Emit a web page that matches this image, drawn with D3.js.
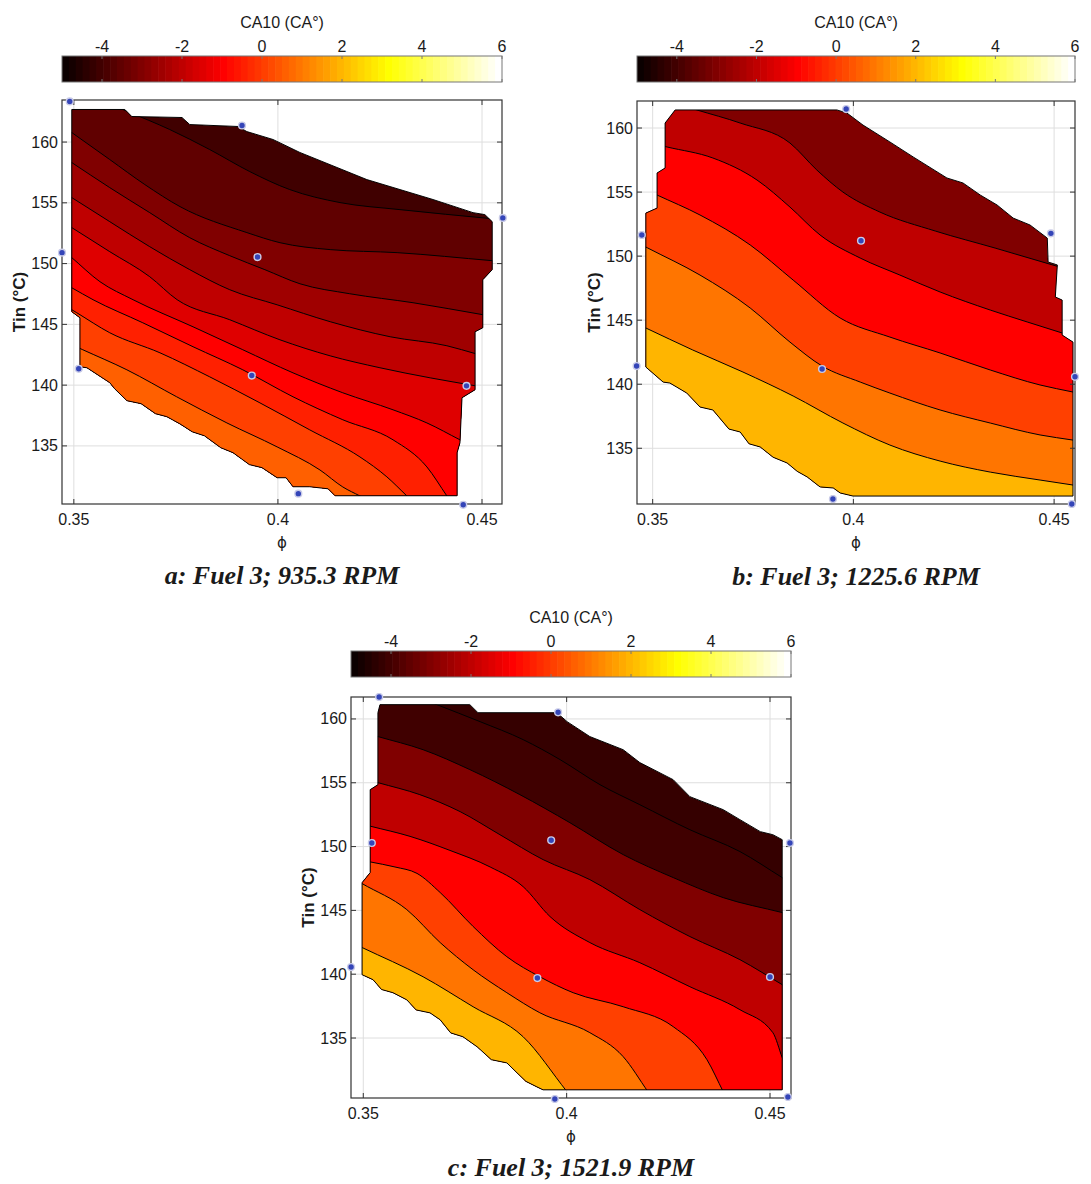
<!DOCTYPE html>
<html><head><meta charset="utf-8">
<script src="https://cdn.jsdelivr.net/npm/d3@7"></script>
<style>
body{margin:0;background:#fff;}
svg text{fill:#1a1a1a;}
</style></head>
<body><svg id="chart" width="1091" height="1184"></svg>
<script>
// ---------- shared data ----------
const colorbarTicks = [-4, -2, 0, 2, 4, 6];
const colorbarRange = [-5, 6];
const xTicks = [0.35, 0.4, 0.45];
const yTicks = [135, 140, 145, 150, 155, 160];
const colorbarTitle = "CA10 (CA°)";
const xTitle = "ϕ";
const yTitle = "Tin (°C)";

// ---------- panel a ----------
const captionA = "a: Fuel 3; 935.3 RPM";
const phiDomainA = [0.3471, 0.4549];
const tinDomainA = [130.22, 163.46];
const levelsA = [-3.5, -3, -2.5, -2, -1.5, -1, -0.5, 0, 0.5];
const floorA = -4;
const linesA = [
  [[0.3632,162.51],[0.3735,161.03],[0.3833,159.38],[0.3931,157.57],[0.4029,156.09],[0.4152,155.02],[0.4299,154.44],[0.4522,153.70]],
  [[0.3495,160.78],[0.3588,158.56],[0.3674,156.50],[0.3760,154.69],[0.3924,152.55],[0.4005,151.72],[0.4128,151.15],[0.4292,150.90],[0.4525,150.24]],
  [[0.3495,158.31],[0.3588,156.25],[0.3686,154.19],[0.3784,152.13],[0.3882,150.65],[0.3968,149.50],[0.4054,148.34],[0.4176,147.52],[0.4331,146.78],[0.4503,145.79]],
  [[0.3495,155.43],[0.3588,153.45],[0.3686,151.39],[0.3784,149.50],[0.3882,147.85],[0.3998,146.61],[0.4128,145.22],[0.4275,143.98],[0.4414,143.24],[0.4485,142.58]],
  [[0.3495,152.96],[0.3588,150.98],[0.3686,148.92],[0.3753,147.03],[0.3882,145.38],[0.4005,143.73],[0.4128,142.41],[0.4250,141.43],[0.4373,140.60],[0.4485,139.94]],
  [[0.3495,150.49],[0.3564,148.51],[0.3645,147.03],[0.3792,144.80],[0.3914,142.91],[0.4037,141.01],[0.4159,139.37],[0.4282,137.97],[0.4365,136.89],[0.4446,135.50]],
  [[0.3495,148.01],[0.3547,147.03],[0.3669,145.13],[0.3792,143.16],[0.3914,141.26],[0.4037,139.04],[0.4159,137.15],[0.4282,135.50],[0.4365,133.27],[0.4414,130.88]],
  [[0.3507,145.96],[0.3588,144.31],[0.3711,142.66],[0.3833,140.68],[0.3956,138.54],[0.4078,136.32],[0.4201,134.09],[0.4267,132.45],[0.4316,130.88]],
  [[0.3522,142.91],[0.3630,141.26],[0.3752,139.04],[0.3875,136.89],[0.3998,134.92],[0.4103,133.02],[0.4159,131.62],[0.4201,130.88]]
];
const hullA = [[0.3495,162.68],[0.3625,162.68],[0.3642,162.10],[0.3765,162.02],[0.3784,161.44],[0.3902,161.28],[0.3924,160.86],[0.3988,160.21],[0.4054,159.14],[0.4218,156.91],[0.4380,155.27],[0.4478,154.19],[0.4507,154.03],[0.4525,153.45],[0.4525,149.50],[0.4502,148.67],[0.4502,144.72],[0.4483,144.39],[0.4483,139.62],[0.4451,138.96],[0.4446,135.26],[0.4439,134.44],[0.4439,130.90],[0.4140,130.90],[0.4123,131.47],[0.4078,131.64],[0.4037,131.64],[0.4020,132.38],[0.3998,132.38],[0.3961,133.21],[0.3930,133.46],[0.3890,134.44],[0.3860,134.85],[0.3820,135.83],[0.3790,136.16],[0.3760,136.81],[0.3728,137.40],[0.3700,137.65],[0.3665,138.47],[0.3630,138.72],[0.3600,139.70],[0.3588,140.20],[0.3532,141.43],[0.3515,141.51],[0.3515,145.54],[0.3495,146.04]];
const pointsA = [[0.3490,163.34],[0.3912,161.36],[0.3950,150.54],[0.3471,150.90],[0.3512,141.35],[0.3936,140.79],[0.4462,139.94],[0.4050,131.07],[0.4454,130.16],[0.4551,153.76]];

// ---------- panel b ----------
const captionB = "b: Fuel 3; 1225.6 RPM";
const phiDomainB = [0.3461, 0.4552];
const tinDomainB = [130.65, 162.11];
const levelsB = [-2, -1, 0, 1, 2];
const floorB = -3;
const linesB = [
  [[0.3610,161.41],[0.3718,160.39],[0.3842,158.83],[0.3909,156.72],[0.3974,155.00],[0.4066,153.44],[0.4204,151.96],[0.4353,150.63],[0.4505,149.23]],
  [[0.3536,158.52],[0.3650,157.66],[0.3760,155.94],[0.3842,153.83],[0.3917,151.65],[0.4017,149.85],[0.4116,148.52],[0.4216,147.20],[0.4341,145.79],[0.4433,144.86],[0.4520,144.00]],
  [[0.3511,154.77],[0.3618,153.21],[0.3743,150.87],[0.3850,148.13],[0.3967,145.17],[0.4091,143.68],[0.4216,142.44],[0.4341,141.11],[0.4465,139.94],[0.4547,139.39]],
  [[0.3488,150.63],[0.3618,148.52],[0.3743,145.95],[0.3842,143.29],[0.3922,141.42],[0.4017,140.17],[0.4091,139.31],[0.4216,137.99],[0.4341,136.97],[0.4465,136.04],[0.4547,135.64]],
  [[0.3483,144.39],[0.3600,142.67],[0.3725,140.95],[0.3850,139.08],[0.3974,136.97],[0.4091,135.25],[0.4216,134.00],[0.4341,133.14],[0.4465,132.52],[0.4547,132.13]]
];
const hullB = [[0.3556,161.41],[0.3959,161.41],[0.3984,161.17],[0.4024,160.23],[0.4091,158.91],[0.4149,157.74],[0.4233,156.10],[0.4273,155.71],[0.4316,154.77],[0.4358,153.99],[0.4398,152.97],[0.4440,152.43],[0.4483,151.41],[0.4485,149.54],[0.4508,149.31],[0.4503,146.81],[0.4520,146.57],[0.4520,143.84],[0.4547,143.29],[0.4547,131.27],[0.3999,131.27],[0.3967,131.51],[0.3950,131.90],[0.3917,131.98],[0.3885,132.76],[0.3860,133.20],[0.3835,133.85],[0.3800,134.30],[0.3768,135.10],[0.3740,135.35],[0.3718,136.27],[0.3690,136.50],[0.3650,137.99],[0.3618,138.22],[0.3585,139.31],[0.3543,140.09],[0.3526,140.17],[0.3483,141.34],[0.3483,153.36],[0.3511,153.75],[0.3511,156.49],[0.3531,156.88],[0.3531,160.39]];
const pointsB = [[0.3982,161.48],[0.4492,151.78],[0.4019,151.20],[0.3473,151.65],[0.3922,141.19],[0.3460,141.42],[0.3949,131.04],[0.4544,130.65],[0.4552,140.58]];

// ---------- panel c ----------
const captionC = "c: Fuel 3; 1521.9 RPM";
const phiDomainC = [0.34698, 0.45516];
const tinDomainC = [130.30, 161.72];
const levelsC = [-4, -3, -2, -1, 0, 1, 2];
const floorC = -4.3;
const linesC = [
  [[0.3681,161.12],[0.3787,159.79],[0.3893,158.38],[0.3984,156.81],[0.4082,154.85],[0.4180,153.28],[0.4303,151.32],[0.4426,149.61],[0.4530,147.57]],
  [[0.3536,158.62],[0.3647,157.59],[0.3762,156.03],[0.3885,154.07],[0.4008,151.87],[0.4139,149.37],[0.4262,147.57],[0.4385,146.00],[0.4530,144.83]],
  [[0.3536,155.01],[0.3639,154.07],[0.3738,152.74],[0.3836,150.93],[0.3942,148.98],[0.4057,147.41],[0.4180,145.06],[0.4303,142.95],[0.4426,141.14],[0.4530,139.18]],
  [[0.3517,151.60],[0.3615,150.80],[0.3713,149.70],[0.3812,148.40],[0.3893,146.86],[0.3959,144.52],[0.4057,142.48],[0.4180,140.90],[0.4303,139.02],[0.4426,137.22],[0.4507,135.42],[0.4530,133.46]],
  [[0.3517,148.80],[0.3578,148.40],[0.3632,147.90],[0.3689,146.40],[0.3770,143.74],[0.3853,141.37],[0.3934,139.80],[0.4016,138.55],[0.4139,137.45],[0.4262,135.89],[0.4345,133.30],[0.4385,130.79]],
  [[0.3497,147.10],[0.3607,145.06],[0.3689,142.48],[0.3770,140.35],[0.3853,138.55],[0.3934,136.98],[0.4057,135.42],[0.4139,133.54],[0.4200,130.79]],
  [[0.3497,142.09],[0.3647,139.80],[0.3770,137.45],[0.3893,135.10],[0.4001,130.79]]
];
const hullC = [[0.3541,161.12],[0.3762,161.12],[0.3782,160.49],[0.3976,160.49],[0.4001,159.79],[0.4057,158.62],[0.4139,157.59],[0.4180,156.58],[0.4262,155.24],[0.4303,153.91],[0.4385,152.89],[0.4426,152.11],[0.4476,151.17],[0.4507,150.93],[0.4530,150.54],[0.4530,130.94],[0.3942,130.94],[0.3927,131.17],[0.3900,131.60],[0.3878,132.27],[0.3853,133.05],[0.3815,133.30],[0.3780,134.31],[0.3745,135.10],[0.3715,135.40],[0.3689,136.43],[0.3664,136.97],[0.3630,137.20],[0.3607,137.99],[0.3573,138.55],[0.3545,138.80],[0.3524,139.57],[0.3497,139.96],[0.3497,147.17],[0.3517,147.96],[0.3517,154.46],[0.3536,154.85],[0.3536,160.49]];
const pointsC = [[0.3539,161.72],[0.3979,160.52],[0.3962,150.49],[0.3521,150.28],[0.3470,140.56],[0.3928,139.70],[0.4500,139.78],[0.3971,130.22],[0.4544,130.38],[0.4549,150.28]];

// ---------- layout (positions only) ----------
const panels = [
  {key:"a", caption:captionA, phi:phiDomainA, tin:tinDomainA, levels:levelsA, floor:floorA, lines:linesA, hull:hullA, points:pointsA,
   box:{l:62,r:502,t:100,b:504}, cb:{t:56,b:82}, cbTitleY:28, cbTickY:52, capY:584},
  {key:"b", caption:captionB, phi:phiDomainB, tin:tinDomainB, levels:levelsB, floor:floorB, lines:linesB, hull:hullB, points:pointsB,
   box:{l:637,r:1075,t:101,b:504}, cb:{t:56,b:82}, cbTitleY:28, cbTickY:52, capY:585},
  {key:"c", caption:captionC, phi:phiDomainC, tin:tinDomainC, levels:levelsC, floor:floorC, lines:linesC, hull:hullC, points:pointsC,
   box:{l:351,r:791,t:697,b:1098}, cb:{t:651,b:677}, cbTitleY:623, cbTickY:647, capY:1176}
];

const SANS = '"Liberation Sans", Arial, Helvetica, sans-serif';
const SERIF = '"Liberation Serif", "Times New Roman", Times, serif';

// MATLAB "hot" colormap with 64 entries
const NC = 64;
function hotColor(i){
  const n = 24;
  const r = Math.min(1,(i+1)/n);
  const g = Math.max(0,Math.min(1,(i+1-n)/n));
  const b = Math.max(0,Math.min(1,(i+1-2*n)/(NC-2*n)));
  return d3.rgb(r*255,g*255,b*255).formatHex();
}
const cIndex = d3.scaleLinear().domain(colorbarRange).range([0,NC]);
function colorOf(v){ return hotColor(Math.max(0,Math.min(NC-1,Math.floor(cIndex(v))))); }

const svg = d3.select("#chart");
const defs = svg.append("defs");

function extend(pts,len){
  const a=pts[0], b=pts[1];
  let dx=a[0]-b[0], dy=a[1]-b[1], m=Math.hypot(dx,dy);
  const s=[a[0]+dx/m*len, a[1]+dy/m*len];
  const n=pts.length, c=pts[n-1], d=pts[n-2];
  dx=c[0]-d[0]; dy=c[1]-d[1]; m=Math.hypot(dx,dy);
  const e=[c[0]+dx/m*len, c[1]+dy/m*len];
  return [s,...pts,e];
}

panels.forEach(p=>{
  const B = p.box;
  const g = svg.append("g");
  const x = d3.scaleLinear().domain(p.phi).range([B.l,B.r]);
  const y = d3.scaleLinear().domain(p.tin).range([B.b,B.t]);

  // grid
  g.append("g").selectAll("line").data(xTicks).join("line")
    .attr("x1",d=>x(d)).attr("x2",d=>x(d)).attr("y1",B.t).attr("y2",B.b)
    .attr("stroke","#dedede").attr("stroke-width",1);
  g.append("g").selectAll("line").data(yTicks).join("line")
    .attr("y1",d=>y(d)).attr("y2",d=>y(d)).attr("x1",B.l).attr("x2",B.r)
    .attr("stroke","#dedede").attr("stroke-width",1);

  // hull + filled contours
  const hullPath = d3.line().x(d=>x(d[0])).y(d=>y(d[1]))(p.hull)+"Z";
  const cid = "clip_"+p.key;
  defs.append("clipPath").attr("id",cid).append("path").attr("d",hullPath);
  const fills = g.append("g").attr("clip-path",`url(#${cid})`);
  fills.append("path").attr("d",hullPath).attr("fill",colorOf(p.floor));
  const lineGen = d3.line().curve(d3.curveMonotoneX);
  const L=B.l-400, R=B.r+400, T=B.t-400, Bo=B.b+400;
  const paths = p.lines.map(ln=>lineGen(extend(ln.map(d=>[x(d[0]),y(d[1])]),30)));
  paths.forEach((dl,i)=>{
    fills.append("path").attr("d",dl+`L${R},${Bo}L${L},${Bo}L${L},${T}Z`)
      .attr("fill",colorOf(p.levels[i]));
  });
  paths.forEach(dl=>{
    fills.append("path").attr("d",dl).attr("fill","none").attr("stroke","#000").attr("stroke-width",1);
  });
  g.append("path").attr("d",hullPath).attr("fill","none").attr("stroke","#000").attr("stroke-width",1);

  // axes box + ticks (inward, mirrored)
  g.append("rect").attr("x",B.l).attr("y",B.t).attr("width",B.r-B.l).attr("height",B.b-B.t)
    .attr("fill","none").attr("stroke","#333").attr("stroke-width",1.2);
  const tk=5;
  xTicks.forEach(v=>{
    g.append("line").attr("x1",x(v)).attr("x2",x(v)).attr("y1",B.b).attr("y2",B.b-tk).attr("stroke","#333");
    g.append("line").attr("x1",x(v)).attr("x2",x(v)).attr("y1",B.t).attr("y2",B.t+tk).attr("stroke","#333");
  });
  yTicks.forEach(v=>{
    g.append("line").attr("y1",y(v)).attr("y2",y(v)).attr("x1",B.l).attr("x2",B.l+tk).attr("stroke","#333");
    g.append("line").attr("y1",y(v)).attr("y2",y(v)).attr("x1",B.r).attr("x2",B.r-tk).attr("stroke","#333");
  });
  g.append("g").selectAll("text").data(xTicks).join("text")
    .attr("x",d=>x(d)).attr("y",B.b+21).attr("text-anchor","middle")
    .style("font-family",SANS).style("font-size","16px")
    .text(d=>d3.format("")(d));
  g.append("g").selectAll("text").data(yTicks).join("text")
    .attr("x",B.l-4).attr("y",d=>y(d)+5.5).attr("text-anchor","end")
    .style("font-family",SANS).style("font-size","16px")
    .text(d=>d);
  g.append("text").attr("x",(B.l+B.r)/2).attr("y",B.b+44).attr("text-anchor","middle")
    .style("font-family",'"DejaVu Sans", sans-serif').style("font-size","15px").text(xTitle);
  g.append("text").attr("transform",`translate(${B.l-37},${(B.t+B.b)/2}) rotate(-90)`)
    .attr("text-anchor","middle")
    .style("font-family",SANS).style("font-size","17px").style("font-weight","bold").text(yTitle);

  // data points
  g.append("g").selectAll("circle").data(p.points).join("circle")
    .attr("cx",d=>x(d[0])).attr("cy",d=>y(d[1])).attr("r",3.4)
    .attr("fill","#3445b8").attr("stroke","#c9cbe8").attr("stroke-width",1.4);

  // colorbar
  const cb = d3.scaleLinear().domain(colorbarRange).range([B.l,B.r]);
  const steps = d3.range(NC);
  g.append("g").selectAll("rect").data(steps).join("rect")
    .attr("x",i=>cb(colorbarRange[0]+i*(colorbarRange[1]-colorbarRange[0])/NC))
    .attr("width",(B.r-B.l)/NC+0.6)
    .attr("y",p.cb.t).attr("height",p.cb.b-p.cb.t)
    .attr("fill",i=>hotColor(i));
  g.append("rect").attr("x",B.l).attr("y",p.cb.t).attr("width",B.r-B.l).attr("height",p.cb.b-p.cb.t)
    .attr("fill","none").attr("stroke","#777").attr("stroke-width",1);
  colorbarTicks.forEach(v=>{
    g.append("line").attr("x1",cb(v)).attr("x2",cb(v)).attr("y1",p.cb.t).attr("y2",p.cb.t+3).attr("stroke","#777");
    g.append("line").attr("x1",cb(v)).attr("x2",cb(v)).attr("y1",p.cb.b).attr("y2",p.cb.b-3).attr("stroke","#777");
  });
  g.append("g").selectAll("text").data(colorbarTicks).join("text")
    .attr("x",d=>cb(d)).attr("y",p.cbTickY).attr("text-anchor","middle")
    .style("font-family",SANS).style("font-size","16px")
    .text(d=>d<0?"-"+Math.abs(d):d);
  g.append("text").attr("x",(B.l+B.r)/2).attr("y",p.cbTitleY).attr("text-anchor","middle")
    .style("font-family",SANS).style("font-size","16px").text(colorbarTitle);

  // caption
  g.append("text").attr("x",(B.l+B.r)/2).attr("y",p.capY).attr("text-anchor","middle")
    .style("font-family",SERIF).style("font-size","26px")
    .style("font-weight","bold").style("font-style","italic").text(p.caption);
});
</script>
</body></html>
